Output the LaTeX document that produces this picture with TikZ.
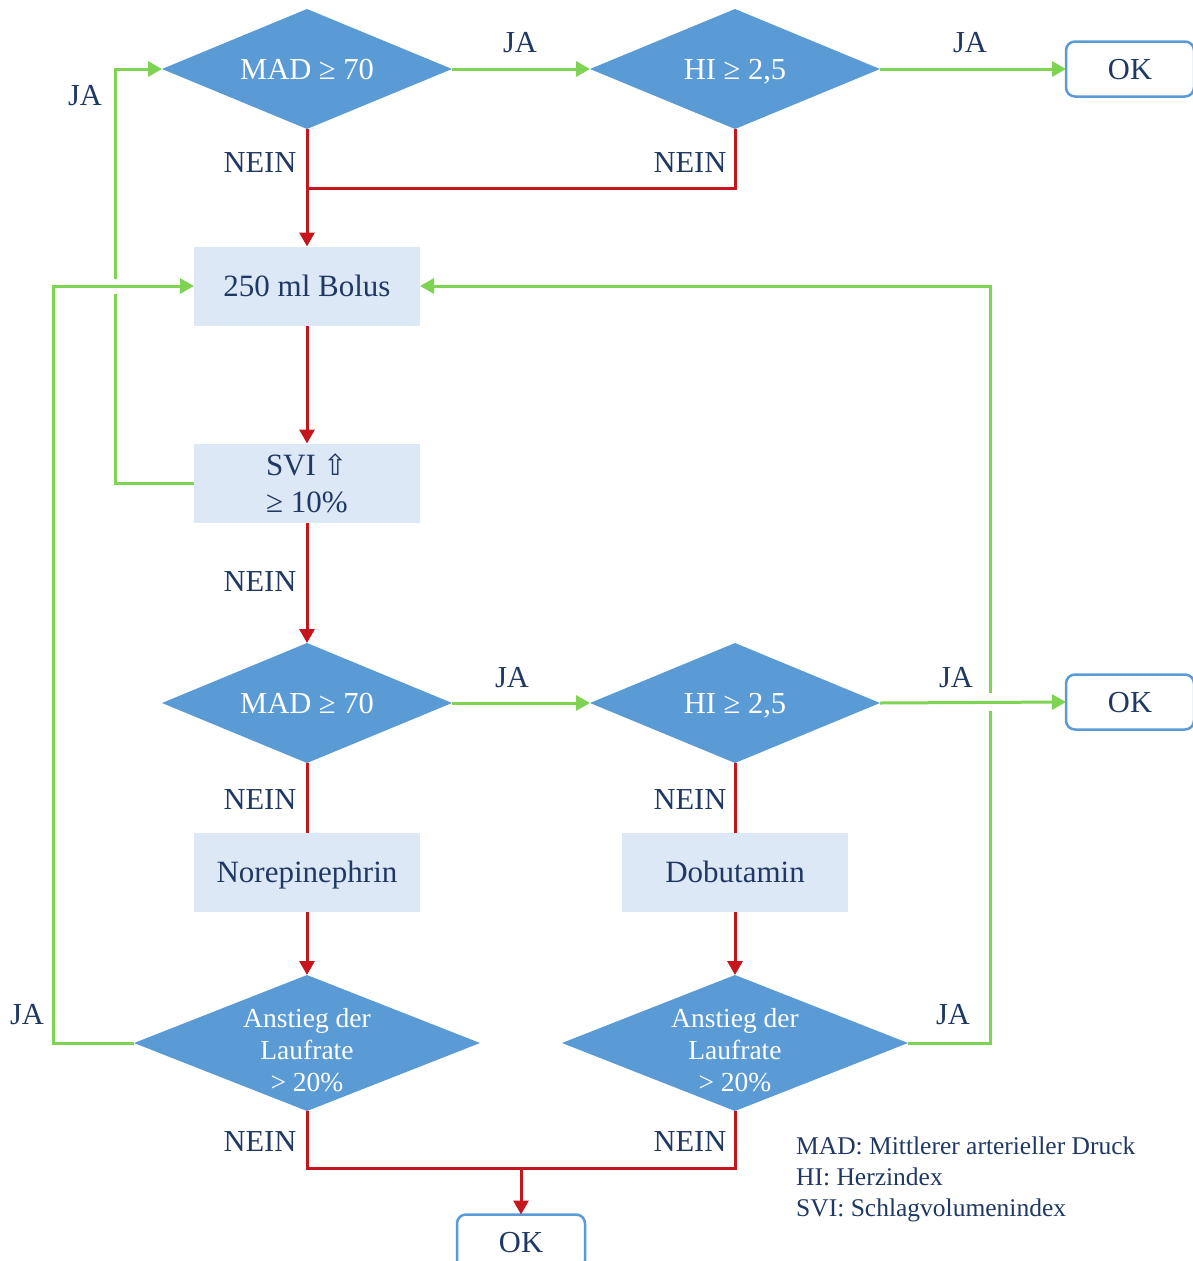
\documentclass[tikz,border=0pt]{standalone}
\usepackage{fontspec}
\setmainfont{Liberation Serif}
\newfontfamily\symfont{DejaVu Sans}
\usetikzlibrary{shapes.geometric,arrows.meta}
\definecolor{dblue}{HTML}{5B9BD5}
\definecolor{lbox}{HTML}{DDE8F6}
\definecolor{navy}{HTML}{1F3864}
\definecolor{gr}{HTML}{7ED352}
\definecolor{rd}{HTML}{C5161D}
\begin{document}
\begin{tikzpicture}[x=1pt,y=-1pt,
  dia/.style={diamond, fill=dblue, inner sep=0pt, outer sep=0pt, minimum width=290pt, minimum height=120pt},
  bigdia/.style={dia, minimum width=346pt, minimum height=136pt},
  dtext/.style={text=white, font=\fontsize{30.5}{36}\selectfont, inner sep=0pt, text height=20pt, text depth=0pt},
  dtextsm/.style={text=white, font=\fontsize{27.5}{32}\selectfont, align=center, inner sep=0pt},
  boxbase/.style={fill=lbox, minimum width=226pt, minimum height=79pt, inner sep=0pt, outer sep=0pt, text=navy, font=\fontsize{31}{37}\selectfont},
  box/.style={boxbase, text height=21pt, text depth=0pt},
  box2/.style={boxbase, align=center},
  okbox/.style={draw=dblue, line width=2.5pt, rounded corners=9pt, fill=white, minimum width=128pt, minimum height=55pt, text=navy, font=\fontsize{30.5}{36}\selectfont, inner sep=0pt, outer sep=0pt, text height=21pt, text depth=0pt},
  lbl/.style={text=navy, font=\fontsize{30.5}{36}\selectfont, inner sep=0pt},
  leg/.style={text=navy, font=\fontsize{25.5}{30}\selectfont, inner sep=0pt, anchor=base west},
  gline/.style={draw=gr, line width=3pt},
  rline/.style={draw=rd, line width=3pt},
  garrow/.style={gline, -{Triangle[length=14pt,width=15pt]}},
  rarrow/.style={rline, -{Triangle[length=14pt,width=15pt]}},
]
\useasboundingbox (0,0) rectangle (1192,1261);

% nodes
\node[dia] (d1) at (307,69) {};
\node[dtext] (t1) at (d1) {MAD ≥ 70};
\node[dia] (d2) at (735,69) {};
\node[dtext] (t2) at (d2) {HI ≥ 2,5};
\node[okbox] (ok1) at (1130,69) {OK};
\node[box] (bolus) at (307,286) {250 ml Bolus};
\node[box2] (svi) at (307,483) {SVI {\symfont\fontsize{29}{30}\selectfont ⇧}\\≥ 10\%};
\node[dia] (d3) at (307,703) {};
\node[dtext] (t3) at (d3) {MAD ≥ 70};
\node[dia] (d4) at (735,703) {};
\node[dtext] (t4) at (d4) {HI ≥ 2,5};
\node[okbox] (ok2) at (1130,702) {OK};
\node[box] (nor) at (307,872) {Norepinephrin};
\node[box] (dob) at (735,872) {Dobutamin};
\node[bigdia] (d5) at (307,1043) {};
\node[dtextsm] (t5) at ([yshift=-7pt]d5.center) {Anstieg der\\Laufrate\\> 20\%};
\node[bigdia] (d6) at (735,1043) {};
\node[dtextsm] (t6) at ([yshift=-7pt]d6.center) {Anstieg der\\Laufrate\\> 20\%};
\node[okbox] (ok3) at (521,1242) {OK};

% coordinates
\coordinate (j1) at (307,188);
\coordinate (c1) at (115,483);
\coordinate (c1a) at (115,294);
\coordinate (c1b) at (115,279);
\coordinate (c2) at (53,1043);
\coordinate (c3) at (990,1043);
\coordinate (c3a) at (990,711);
\coordinate (c3b) at (990,693);
\coordinate (j2) at (521,1168);

% connectors
\draw[garrow] (d1.east) -- (d2.west);
\draw[garrow] (d2.east) -- (ok1.west);
\draw[rarrow] (d1.south) -- (bolus.north);
\draw[rline] (d2.south) |- (j1);
\draw[rarrow] (bolus.south) -- (svi.north);
\draw[gline] (svi.west) -- (c1) -- (c1a);
\draw[garrow] (c1b) |- (d1.west);
\draw[garrow] (d5.west) -- (c2) |- (bolus.west);
\draw[gline] (d6.east) -- (c3) -- (c3a);
\draw[garrow] (c3b) |- (bolus.east);
\draw[rarrow] (svi.south) -- (d3.north);
\draw[garrow] (d3.east) -- (d4.west);
\draw[garrow] (d4.east) -- (ok2.west);
\draw[rline] (d3.south) -- (nor.north);
\draw[rline] (d4.south) -- (dob.north);
\draw[rarrow] (nor.south) -- (d5.north);
\draw[rarrow] (dob.south) -- (d6.north);
\draw[rline] (d5.south) |- (j2) -| (d6.south);
\draw[rarrow] (j2) -- (ok3.north);

% labels
\node[lbl] (ja1) at (520,43) {JA};
\node[lbl] (ja2) at (970,43) {JA};
\node[lbl] (ja3) at (85,96) {JA};
\node[lbl] (ja4) at (27,1015) {JA};
\node[lbl] (ja5) at (512,678) {JA};
\node[lbl] (ja6) at (956,678) {JA};
\node[lbl] (ja7) at (953,1015) {JA};
\node[lbl] (n1) at (260,163) {NEIN};
\node[lbl] (n2) at (690,163) {NEIN};
\node[lbl] (n3) at (260,582) {NEIN};
\node[lbl] (n4) at (260,800) {NEIN};
\node[lbl] (n5) at (690,800) {NEIN};
\node[lbl] (n6) at (260,1141) {NEIN};
\node[lbl] (n7) at (690,1141) {NEIN};

% legend
\node[leg] (lg1) at (796,1154) {MAD: Mittlerer arterieller Druck};
\node[leg] (lg2) at (796,1185) {HI: Herzindex};
\node[leg] (lg3) at (796,1216) {SVI: Schlagvolumenindex};
\end{tikzpicture}
\end{document}
